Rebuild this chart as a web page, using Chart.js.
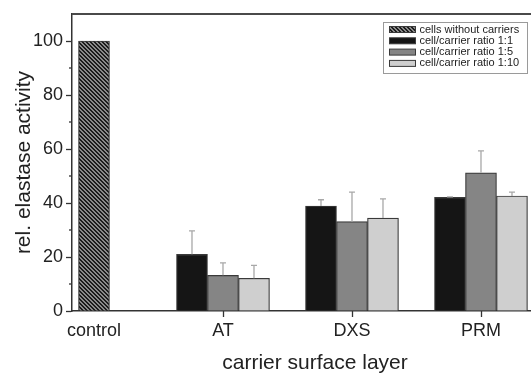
<!DOCTYPE html>
<html><head><meta charset="utf-8">
<script src="https://cdn.jsdelivr.net/npm/chart.js@4.4.0/dist/chart.umd.min.js"></script>
<style>
html,body{margin:0;padding:0;background:#fff;overflow:hidden;width:531px;height:374px}
#wrap{width:600px;height:374px;position:relative}
</style></head>
<body><div id="wrap"><canvas id="c" width="600" height="374"></canvas></div>
<script>
// ---- data ----
const categories = ['control', 'AT', 'DXS', 'PRM'];
const seriesLabels = ['cells without carriers', 'cell/carrier ratio 1:1', 'cell/carrier ratio 1:5', 'cell/carrier ratio 1:10'];
const cellsWithoutCarriers = [100, null, null, null];
const ratio1to1  = [null, 21.0, 38.9, 42.1];
const ratio1to5  = [null, 13.2, 33.1, 51.2];
const ratio1to10 = [null, 12.1, 34.4, 42.6];
const err1to1  = [null, 8.7, 2.3, 0.2];
const err1to5  = [null, 4.6, 10.9, 8.1];
const err1to10 = [null, 4.8, 7.1, 1.4];
const yMajorTicks = [0, 20, 40, 60, 80, 100];
const yMinorTicks = [10, 30, 50, 70, 90];

const FONT = "'Liberation Sans', Arial, Helvetica, sans-serif";

// hatch pattern for control bar
function makeHatch() {
  const n = 4, cv = document.createElement('canvas');
  cv.width = n; cv.height = n;
  const g = cv.getContext('2d'), img = g.createImageData(n, n);
  for (let yy = 0; yy < n; yy++) for (let xx = 0; xx < n; xx++) {
    const k = ((xx - yy) % n + n) % n;
    const c = k < 2 ? 0x1c : 0x8a;
    const p = (yy * n + xx) * 4;
    img.data[p] = c; img.data[p+1] = c; img.data[p+2] = c; img.data[p+3] = 255;
  }
  g.putImageData(img, 0, 0);
  return document.getElementById('c').getContext('2d').createPattern(cv, 'repeat');
}
const hatch = makeHatch();

const toPts = arr => arr.map((v, i) => ({ x: i, y: v }));
const fills = [hatch, '#151515', '#858585', '#cfcfcf'];
const values = [cellsWithoutCarriers, ratio1to1, ratio1to5, ratio1to10];
const errors = [null, err1to1, err1to5, err1to10];

const datasets = values.map((vals, k) => ({
  label: seriesLabels[k],
  data: toPts(vals),
  errors: errors[k],
  backgroundColor: fills[k],
  borderColor: '#3a3a3a',
  borderWidth: 1.2,
  barThickness: 31,
  skipNull: true
}));

const decor = {
  id: 'decor',
  afterDatasetsDraw(chart) {
    const ctx = chart.ctx, ys = chart.scales.y;
    ctx.save();
    ctx.strokeStyle = '#a8a8a8';
    ctx.lineWidth = 1.3;
    chart.data.datasets.forEach((ds, di) => {
      if (!ds.errors) return;
      const meta = chart.getDatasetMeta(di);
      meta.data.forEach((bar, i) => {
        const v = ds.data[i].y, e = ds.errors[i];
        if (v == null || e == null) return;
        const yTop = ys.getPixelForValue(v + e);
        ctx.beginPath();
        ctx.moveTo(bar.x, bar.y); ctx.lineTo(bar.x, yTop);
        ctx.moveTo(bar.x - 3, yTop); ctx.lineTo(bar.x + 3, yTop);
        ctx.stroke();
      });
    });
    ctx.restore();
  },
  afterDraw(chart) {
    const ctx = chart.ctx, a = chart.chartArea, ys = chart.scales.y, xs = chart.scales.x;
    ctx.save();
    // top frame line
    ctx.strokeStyle = '#4a4a4a'; ctx.lineWidth = 2;
    ctx.beginPath(); ctx.moveTo(a.left, a.top); ctx.lineTo(chart.width, a.top); ctx.stroke();
    // minor ticks (y) and group ticks (x, not under control)
    ctx.strokeStyle = '#333'; ctx.lineWidth = 1.3;
    yMinorTicks.forEach(v => {
      const p = ys.getPixelForValue(v);
      ctx.beginPath(); ctx.moveTo(a.left - 3, p); ctx.lineTo(a.left, p); ctx.stroke();
    });
    categories.forEach((c, i) => {
      if (i === 0) return;
      const p = Math.round(xs.getPixelForValue(i)) + 0.5;
      ctx.beginPath(); ctx.moveTo(p, a.bottom); ctx.lineTo(p, a.bottom + 6); ctx.stroke();
    });
    // legend
    const bx = 383.5, by = a.top + 8.5, bw = 144, bh = 51;
    ctx.strokeStyle = '#9a9a9a'; ctx.lineWidth = 1;
    ctx.strokeRect(bx, by, bw, bh);
    ctx.font = '11px ' + FONT;
    ctx.textBaseline = 'middle';
    chart.data.datasets.forEach((ds, k) => {
      const ry = by + 7 + k * 11.3;
      ctx.fillStyle = ds.backgroundColor;
      ctx.fillRect(bx + 6, ry - 3, 26, 6);
      ctx.strokeStyle = '#3a3a3a'; ctx.lineWidth = 1;
      ctx.strokeRect(bx + 6, ry - 3, 26, 6);
      ctx.fillStyle = '#222';
      ctx.fillText(ds.label, bx + 36, ry);
    });
    ctx.restore();
  }
};

new Chart(document.getElementById('c'), {
  type: 'bar',
  data: { datasets },
  plugins: [decor],
  options: {
    responsive: false,
    animation: false,
    layout: { padding: { top: 14, right: 42, left: 0, bottom: 0 } },
    plugins: { legend: { display: false }, tooltip: { enabled: false } },
    scales: {
      x: {
        type: 'linear',
        offset: false,
        min: -0.1705,
        max: 3.597,
        afterBuildTicks: s => { s.ticks = categories.map((c, i) => ({ value: i })); },
        afterFit: s => { s.height = 63; },
        grid: {
          offset: false, display: true,
          drawOnChartArea: false, drawTicks: true, tickLength: 6,
          tickColor: 'rgba(0,0,0,0)'
        },
        border: { display: true, color: '#333', width: 1.5 },
        ticks: {
          callback: v => categories[v],
          font: { family: FONT, size: 18 }, color: '#222', padding: 3, maxRotation: 0, autoSkip: false
        },
        title: { display: true, text: 'carrier surface layer', font: { family: FONT, size: 21, lineHeight: 1.0 }, color: '#222', padding: { top: 0, bottom: 0 } }
      },
      y: {
        min: 0, max: 110,
        afterBuildTicks: s => { s.ticks = yMajorTicks.map(v => ({ value: v })); },
        afterFit: s => { s.width = 72; },
        grid: { drawOnChartArea: false, drawTicks: true, tickLength: 6, tickColor: '#333', tickWidth: 1.3 },
        border: { display: true, color: '#333', width: 1.5 },
        ticks: { font: { family: FONT, size: 18 }, color: '#222', padding: 3 },
        title: { display: true, text: 'rel. elastase activity', font: { family: FONT, size: 21 }, color: '#222', padding: { top: 12, bottom: 0 } }
      }
    }
  }
});
</script>
</body></html>
